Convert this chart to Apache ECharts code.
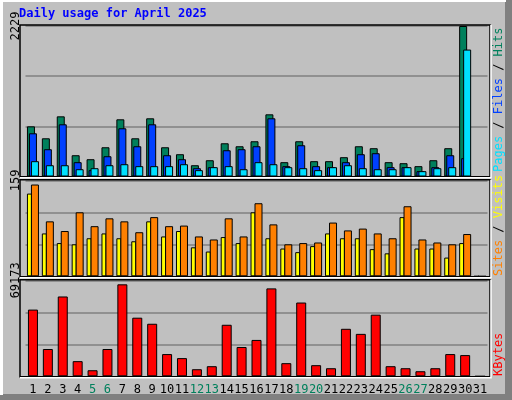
<!DOCTYPE html>
<html><head><meta charset="utf-8">
<script src="https://cdn.jsdelivr.net/npm/echarts@6/dist/echarts.min.js"></script>
<style>html,body{margin:0;padding:0;background:#c0c0c0}#c{width:512px;height:400px}</style>
</head><body><div id="c"></div>
<script>
const days = Array.from({length:31},(_,i)=>String(i+1));
const weekends = ['5','6','12','13','19','20','26','27'];
const hits  = [743,566,891,315,256,433,847,566,862,433,330,167,241,492,448,522,921,212,522,227,227,286,448,419,212,197,153,241,419,2229,0];
const files = [640,404,773,212,94,300,714,448,773,315,256,123,138,389,404,448,862,153,463,153,138,212,330,345,138,138,79,138,315,271,0];
const pages = [227,167,167,108,123,167,182,153,153,153,182,94,138,153,108,212,182,138,123,94,138,167,123,108,108,138,79,123,138,1880,0];
const sites = [137,71,55,53,63,71,63,58,91,66,75,48,41,65,55,106,63,46,40,50,71,63,63,45,38,98,46,46,31,55,0];
const visits= [152,91,75,106,83,96,91,73,98,83,84,66,61,96,66,121,86,53,55,56,89,76,79,71,63,116,61,56,53,70,0];
const kbytes= [48055,19660,57520,10920,4370,19660,66260,42230,37860,16020,13110,5100,7280,37130,21120,26210,63350,9470,53150,8010,5820,34220,30580,44410,7280,5820,3640,5820,16020,15290,0];
const maxHits = 2229, maxVisits = 159, maxKB = 69173;

const mono = "'DejaVu Sans Mono', monospace";
const grids = [{top:26,h:150.5},{top:180.3,h:96},{top:280.3,h:96}];
const L = 25.5, R = 487.5;
const chart = echarts.init(document.getElementById('c'));
function yAx(i,max){return {gridIndex:i,min:0,max:max,interval:max/3,
  axisLine:{show:false},axisTick:{show:false},
  splitLine:{lineStyle:{color:'#808080',width:1.5}},
  axisLabel:{rotate:90,fontFamily:mono,fontSize:12,color:'#000',margin:4,
    formatter:v=>Math.abs(v-max)<1e-6?String(max):''}};}
function xAx(i,show){return {type:'category',gridIndex:i,data:days,
  axisLine:{show:false},axisTick:{show:false},
  axisLabel:{show:show,fontFamily:mono,fontSize:12,margin:8,interval:0,
    color:(v)=>weekends.includes(v)?'#00805c':'#000'}};}
const bs = {borderColor:'#000',borderWidth:1};
const g = [];
// outer bevel
g.push({type:'rect',shape:{x:0,y:0,width:512,height:400},style:{fill:'#c0c0c0'},z:-10});
g.push({type:'rect',shape:{x:505,y:0,width:7,height:400},style:{fill:'#808080'},z:-9});
g.push({type:'rect',shape:{x:0,y:394,width:512,height:6},style:{fill:'#808080'},z:-9});
g.push({type:'rect',shape:{x:0,y:0,width:3,height:395},style:{fill:'#ffffff'},z:-9});
g.push({type:'rect',shape:{x:0,y:0,width:506,height:2},style:{fill:'#ffffff'},z:-9});
// panel frames
const frames=[[25,176.8],[179.8,276.8],[279.8,376.8]];
frames.forEach(f=>{
  g.push({type:'rect',shape:{x:20,y:f[0],width:470,height:f[1]-f[0]},style:{fill:'none',stroke:'#000',lineWidth:1.5},z:10});
  g.push({type:'polyline',shape:{points:[[491,f[0]],[491,f[1]+1],[20,f[1]+1]]},style:{stroke:'#fff',lineWidth:1.5,fill:'none'},z:10});
});
g.push({type:'text',left:19,top:8,style:{text:'Daily usage for April 2025',font:"bold 12px "+mono,fill:'#0000ff'}});
function vlabel(x,yBottom,parts){
  const rich={};parts.forEach((p,i)=>rich['s'+i]={fill:p[1],font:"12px "+mono});
  g.push({type:'text',x:x,y:yBottom,rotation:Math.PI/2,
    style:{text:parts.map((p,i)=>'{s'+i+'|'+p[0]+'}').join(''),rich:rich,font:"12px "+mono,textVerticalAlign:'middle'}});
}
vlabel(499,172,[['Pages','#00e0ff'],[' / ','#000'],['Files','#0040ff'],[' / ','#000'],['Hits','#00805c']]);
vlabel(499,276,[['Sites','#ff8000'],[' / ','#000'],['Visits','#ffff00']]);
vlabel(499,376,[['KBytes','#ff0000']]);

chart.setOption({
  animation:false,
  backgroundColor:'transparent',
  grid:grids.map(q=>({left:L,width:R-L,top:q.top,height:q.h})),
  xAxis:[xAx(0,false),xAx(1,false),xAx(2,true)],
  yAxis:[yAx(0,maxHits),yAx(1,maxVisits),yAx(2,maxKB)],
  graphic:g,
  series:[
    {type:'bar',xAxisIndex:0,yAxisIndex:0,data:hits,barWidth:8,barGap:'-75%',itemStyle:Object.assign({color:'#00805c'},bs)},
    {type:'bar',xAxisIndex:0,yAxisIndex:0,data:files,barWidth:8,barGap:'-75%',itemStyle:Object.assign({color:'#0040ff'},bs)},
    {type:'bar',xAxisIndex:0,yAxisIndex:0,data:pages,barWidth:8,barGap:'-75%',itemStyle:Object.assign({color:'#00e0ff'},bs)},
    {type:'bar',xAxisIndex:1,yAxisIndex:1,data:sites,barWidth:5,barGap:'-20%',itemStyle:Object.assign({color:'#ffff00'},bs)},
    {type:'bar',xAxisIndex:1,yAxisIndex:1,data:visits,barWidth:8,barGap:'-20%',itemStyle:Object.assign({color:'#ff8000'},bs)},
    {type:'bar',xAxisIndex:2,yAxisIndex:2,data:kbytes,barWidth:10,itemStyle:Object.assign({color:'#ff0000'},bs)}
  ]
});
</script></body></html>
